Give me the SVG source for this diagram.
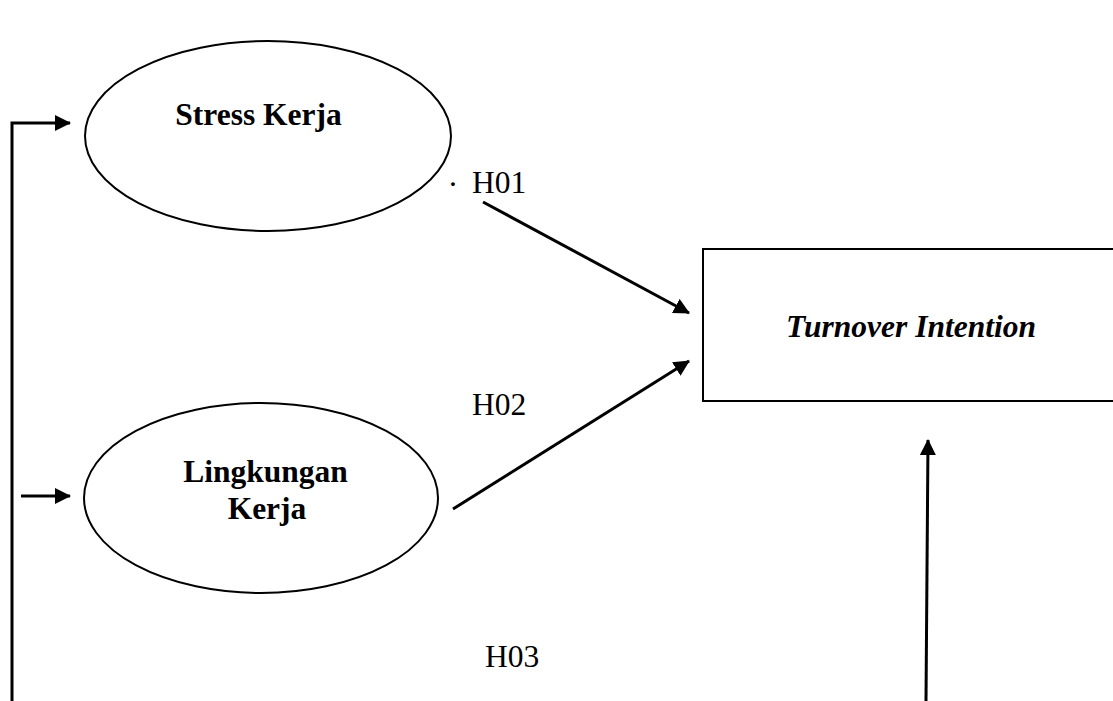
<svg xmlns="http://www.w3.org/2000/svg" width="1113" height="701" viewBox="0 0 1113 701">
<style>
.node{fill:#fff;stroke:#000;stroke-width:2}
.lbl{font-family:"Liberation Serif","Times New Roman",serif;font-size:31.5px;fill:#000}
.b{font-weight:bold}
.bi{font-weight:bold;font-style:italic}
.c{text-anchor:middle}
.conn{fill:none;stroke:#000;stroke-width:3}
</style>
<defs>
<marker id="ah" markerUnits="userSpaceOnUse" markerWidth="16" markerHeight="16" viewBox="0 0 16 16" refX="15" refY="8" orient="auto">
<path d="M0,0 L16,8 L0,16 Z" fill="#000"/>
</marker>
</defs>
<rect width="1113" height="701" fill="#fff"/>
<g id="stress-kerja">
<ellipse class="node" cx="268" cy="136" rx="183" ry="95"/>
<text class="lbl b c" x="258.5" y="125">Stress Kerja</text>
</g>
<g id="lingkungan-kerja">
<ellipse class="node" cx="261" cy="498" rx="177" ry="95"/>
<text class="lbl b c" x="265.5" y="482">Lingkungan</text>
<text class="lbl b c" x="267" y="519">Kerja</text>
</g>
<g id="turnover-intention">
<rect class="node" x="703" y="249" width="420" height="152"/>
<text class="lbl bi c" x="911" y="337">Turnover Intention</text>
</g>
<g id="connectors">
<polyline class="conn" points="12,701 12,123 70,123" marker-end="url(#ah)"/>
<line class="conn" x1="21" y1="496" x2="70" y2="496" marker-end="url(#ah)"/>
<line class="conn" x1="483" y1="202" x2="689" y2="313" marker-end="url(#ah)"/>
<line class="conn" x1="453" y1="509" x2="689" y2="361" marker-end="url(#ah)"/>
<line class="conn" x1="926" y1="701" x2="928" y2="440" stroke-width="2.5" marker-end="url(#ah)"/>
</g>
<g id="labels">
<text class="lbl" x="449" y="186" font-size="20">.</text>
<text class="lbl" x="472" y="193">H01</text>
<text class="lbl" x="472" y="415">H02</text>
<text class="lbl" x="485" y="667">H03</text>
</g>
</svg>
